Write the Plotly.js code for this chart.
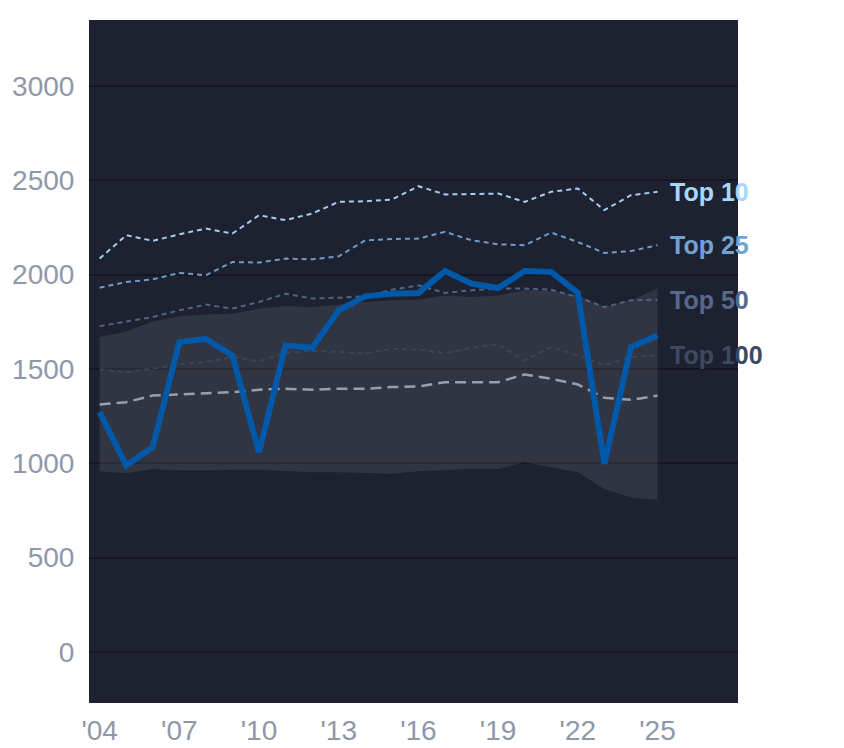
<!DOCTYPE html>
<html>
<head>
<meta charset="utf-8">
<script src="https://cdn.plot.ly/plotly-3.0.1.min.js"></script>
<style>
  html, body { margin: 0; padding: 0; background: #ffffff; }
  #chart { width: 844px; height: 748px; }
</style>
</head>
<body>
<div id="chart"></div>
<script>
"use strict";

const years = [2004, 2005, 2006, 2007, 2008, 2009, 2010, 2011, 2012, 2013, 2014,
               2015, 2016, 2017, 2018, 2019, 2020, 2021, 2022, 2023, 2024, 2025];

const mainSeries = [1271, 988, 1085, 1642, 1660, 1572, 1058, 1625, 1612, 1811, 1885,
                    1899, 1903, 2019, 1952, 1929, 2019, 2014, 1903, 997, 1616, 1678];

const top10 = [2085, 2209, 2179, 2214, 2244, 2218, 2315, 2289, 2324, 2386, 2389,
               2398, 2469, 2425, 2427, 2430, 2386, 2439, 2457, 2342, 2421, 2439];

const top25 = [1931, 1961, 1975, 2009, 1997, 2067, 2064, 2085, 2081, 2097, 2182,
               2189, 2191, 2227, 2182, 2161, 2156, 2223, 2173, 2115, 2125, 2156];

const top50 = [1727, 1749, 1775, 1811, 1841, 1820, 1855, 1899, 1873, 1878, 1885,
               1920, 1943, 1903, 1917, 1926, 1926, 1920, 1881, 1828, 1864, 1867];

const top100 = [1497, 1483, 1501, 1524, 1536, 1563, 1541, 1586, 1595, 1590, 1581,
                1607, 1602, 1584, 1612, 1630, 1545, 1616, 1572, 1519, 1563, 1572];

const median = [1312, 1324, 1359, 1365, 1368, 1377, 1390, 1395, 1390, 1395, 1395,
                1404, 1407, 1430, 1430, 1430, 1471, 1448, 1418, 1347, 1336, 1359];

const bandUpper = [1669, 1699, 1752, 1779, 1789, 1793, 1820, 1834, 1828, 1842, 1855,
                   1864, 1867, 1890, 1881, 1890, 1917, 1913, 1890, 1828, 1864, 1926];

const bandLower = [957, 947, 970, 961, 961, 965, 965, 957, 952, 952, 947,
                   944, 957, 965, 970, 970, 1005, 979, 952, 864, 819, 806];

const tickYears = [2004, 2007, 2010, 2013, 2016, 2019, 2022, 2025];
const tickLabels = ["'04", "'07", "'10", "'13", "'16", "'19", "'22", "'25"];

const refLabels = ["Top 10", "Top 25", "Top 50", "Top 100"];
const refSeries = [top10, top25, top50, top100];
const refColors = ["#a3cff2", "#6d9dc8", "#4f6485", "#3a4559"];
const labelColors = ["#a9d6fb", "#72a3cf", "#56698b", "#3d4962"];

const last = arr => arr[arr.length - 1];

const traces = [
    // shaded range band
    {
        type: "scatter", mode: "lines", x: years, y: bandLower,
        line: { width: 0 }, hoverinfo: "skip", showlegend: false
    },
    {
        type: "scatter", mode: "lines", x: years, y: bandUpper,
        line: { width: 0 }, fill: "tonexty",
        fillcolor: "rgba(255,255,255,0.09)", hoverinfo: "skip", showlegend: false
    },
    // median
    {
        type: "scatter", mode: "lines", x: years, y: median,
        line: { color: "#9a9fab", width: 2.5, dash: "11px,6px" }, showlegend: false
    }
];

// reference lines drawn bottom to top
for (let i = refSeries.length - 1; i >= 0; i--) {
    traces.push({
        type: "scatter", mode: "lines", x: years, y: refSeries[i],
        name: refLabels[i],
        line: { color: refColors[i], width: 2, dash: "5px,4px" }, showlegend: false
    });
}

traces.push({
    type: "scatter", mode: "lines", x: years, y: mainSeries,
    line: { color: "#0058a9", width: 6 }, showlegend: false
});

const annotations = refLabels.map((label, i) => ({
    x: last(years), y: last(refSeries[i]),
    xref: "x", yref: "y",
    text: "<b>" + label + "</b>",
    showarrow: false, xanchor: "left", yanchor: "middle", xshift: 10,
    font: { family: "Liberation Sans, Arial, sans-serif", size: 25, color: labelColors[i] }
}));

const layout = {
    width: 844,
    height: 748,
    margin: { l: 89, r: 106, t: 20, b: 45 },
    paper_bgcolor: "#ffffff",
    plot_bgcolor: "#1d2130",
    showlegend: false,
    font: { family: "Liberation Sans, Arial, sans-serif", size: 28, color: "#8e98a8" },
    xaxis: {
        range: [2003.6, 2028.03],
        tickvals: tickYears,
        ticktext: tickLabels,
        showgrid: false,
        zeroline: false,
        ticks: "outside", ticklen: 2, tickcolor: "rgba(0,0,0,0)",
        tickfont: { size: 28, color: "#8e98a8" }
    },
    yaxis: {
        range: [-271, 3350],
        tickvals: [0, 500, 1000, 1500, 2000, 2500, 3000],
        gridcolor: "#141720",
        gridwidth: 2,
        zeroline: false,
        ticks: "outside", ticklen: 8, tickcolor: "rgba(0,0,0,0)",
        tickfont: { size: 28, color: "#8e98a8" }
    },
    annotations: annotations
};

Plotly.newPlot("chart", traces, layout, { displayModeBar: false, staticPlot: true });
</script>
</body>
</html>
